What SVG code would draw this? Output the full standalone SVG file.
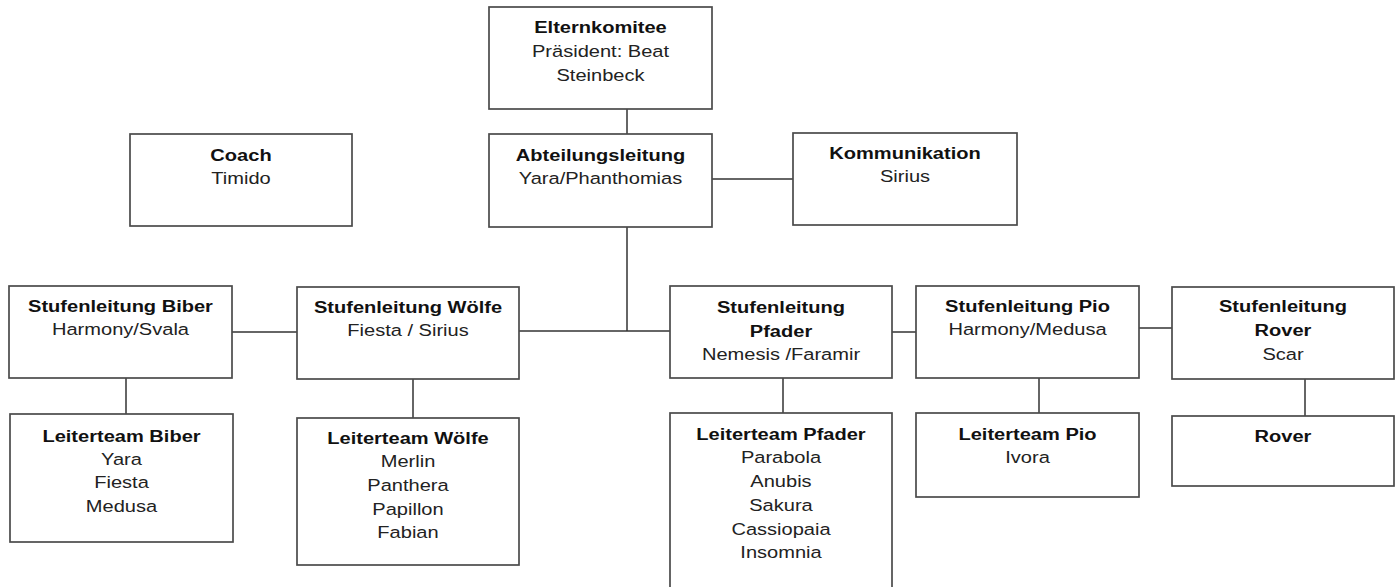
<svg xmlns="http://www.w3.org/2000/svg" width="1397" height="587" viewBox="0 0 1397 587">
<style>
rect{fill:#fff;stroke:#4a4a4a;stroke-width:1.7}
.c line{stroke:#333;stroke-width:1.5}
text{font-family:"Liberation Sans",Arial,sans-serif;font-size:17px;text-anchor:middle;fill:#222}
.b{font-weight:bold;fill:#111}
</style>
<rect x="0" y="0" width="1397" height="587" style="stroke:none"/>
<g class="c" id="connectors">
<line x1="627" y1="109" x2="627" y2="134"/>
<line x1="712" y1="179" x2="793" y2="179"/>
<line x1="627" y1="227" x2="627" y2="331"/>
<line x1="519" y1="331" x2="670" y2="331"/>
<line x1="232" y1="332" x2="297" y2="332"/>
<line x1="892" y1="332" x2="916" y2="332"/>
<line x1="1139" y1="328" x2="1172" y2="328"/>
<line x1="126" y1="378" x2="126" y2="414"/>
<line x1="413" y1="379" x2="413" y2="418"/>
<line x1="783" y1="378" x2="783" y2="413"/>
<line x1="1039" y1="378" x2="1039" y2="413"/>
<line x1="1305" y1="379" x2="1305" y2="416"/>
</g>
<g id="elternkomitee">
<rect x="489" y="7" width="223" height="102"/>
<text class="b" transform="translate(600.5 33) scale(1.18 1)">Elternkomitee</text>
<text transform="translate(600.5 57) scale(1.18 1)">Präsident: Beat</text>
<text transform="translate(600.5 81) scale(1.18 1)">Steinbeck</text>
</g>
<g id="abteilungsleitung">
<rect x="489" y="134" width="223" height="93"/>
<text class="b" transform="translate(600.5 161) scale(1.18 1)">Abteilungsleitung</text>
<text transform="translate(600.5 184) scale(1.18 1)">Yara/Phanthomias</text>
</g>
<g id="coach">
<rect x="130" y="134" width="222" height="92"/>
<text class="b" transform="translate(241 161) scale(1.18 1)">Coach</text>
<text transform="translate(241 184) scale(1.18 1)">Timido</text>
</g>
<g id="kommunikation">
<rect x="793" y="133" width="224" height="92"/>
<text class="b" transform="translate(905 159) scale(1.18 1)">Kommunikation</text>
<text transform="translate(905 182) scale(1.18 1)">Sirius</text>
</g>
<g id="stufe-biber">
<rect x="9" y="286" width="223" height="92"/>
<text class="b" transform="translate(120.5 312) scale(1.18 1)">Stufenleitung Biber</text>
<text transform="translate(120.5 335) scale(1.18 1)">Harmony/Svala</text>
</g>
<g id="stufe-woelfe">
<rect x="297" y="287" width="222" height="92"/>
<text class="b" transform="translate(408 313) scale(1.18 1)">Stufenleitung Wölfe</text>
<text transform="translate(408 336) scale(1.18 1)">Fiesta / Sirius</text>
</g>
<g id="stufe-pfader">
<rect x="670" y="286" width="222" height="92"/>
<text class="b" transform="translate(781 313) scale(1.18 1)">Stufenleitung</text>
<text class="b" transform="translate(781 337) scale(1.18 1)">Pfader</text>
<text transform="translate(781 360) scale(1.18 1)">Nemesis /Faramir</text>
</g>
<g id="stufe-pio">
<rect x="916" y="286" width="223" height="92"/>
<text class="b" transform="translate(1027.5 312) scale(1.18 1)">Stufenleitung Pio</text>
<text transform="translate(1027.5 335) scale(1.18 1)">Harmony/Medusa</text>
</g>
<g id="stufe-rover">
<rect x="1172" y="287" width="222" height="92"/>
<text class="b" transform="translate(1283 312) scale(1.18 1)">Stufenleitung</text>
<text class="b" transform="translate(1283 336) scale(1.18 1)">Rover</text>
<text transform="translate(1283 360) scale(1.18 1)">Scar</text>
</g>
<g id="team-biber">
<rect x="10" y="414" width="223" height="128"/>
<text class="b" transform="translate(121.5 442) scale(1.18 1)">Leiterteam Biber</text>
<text transform="translate(121.5 465) scale(1.18 1)">Yara</text>
<text transform="translate(121.5 488) scale(1.18 1)">Fiesta</text>
<text transform="translate(121.5 512) scale(1.18 1)">Medusa</text>
</g>
<g id="team-woelfe">
<rect x="297" y="418" width="222" height="147"/>
<text class="b" transform="translate(408 444) scale(1.18 1)">Leiterteam Wölfe</text>
<text transform="translate(408 467) scale(1.18 1)">Merlin</text>
<text transform="translate(408 491) scale(1.18 1)">Panthera</text>
<text transform="translate(408 515) scale(1.18 1)">Papillon</text>
<text transform="translate(408 538) scale(1.18 1)">Fabian</text>
</g>
<g id="team-pfader">
<rect x="670" y="413" width="222" height="185"/>
<text class="b" transform="translate(781 440) scale(1.18 1)">Leiterteam Pfader</text>
<text transform="translate(781 463) scale(1.18 1)">Parabola</text>
<text transform="translate(781 487) scale(1.18 1)">Anubis</text>
<text transform="translate(781 511) scale(1.18 1)">Sakura</text>
<text transform="translate(781 535) scale(1.18 1)">Cassiopaia</text>
<text transform="translate(781 558) scale(1.18 1)">Insomnia</text>
</g>
<g id="team-pio">
<rect x="916" y="413" width="223" height="84"/>
<text class="b" transform="translate(1027.5 440) scale(1.18 1)">Leiterteam Pio</text>
<text transform="translate(1027.5 463) scale(1.18 1)">Ivora</text>
</g>
<g id="team-rover">
<rect x="1172" y="416" width="222" height="70"/>
<text class="b" transform="translate(1283 442) scale(1.18 1)">Rover</text>
</g>
</svg>
